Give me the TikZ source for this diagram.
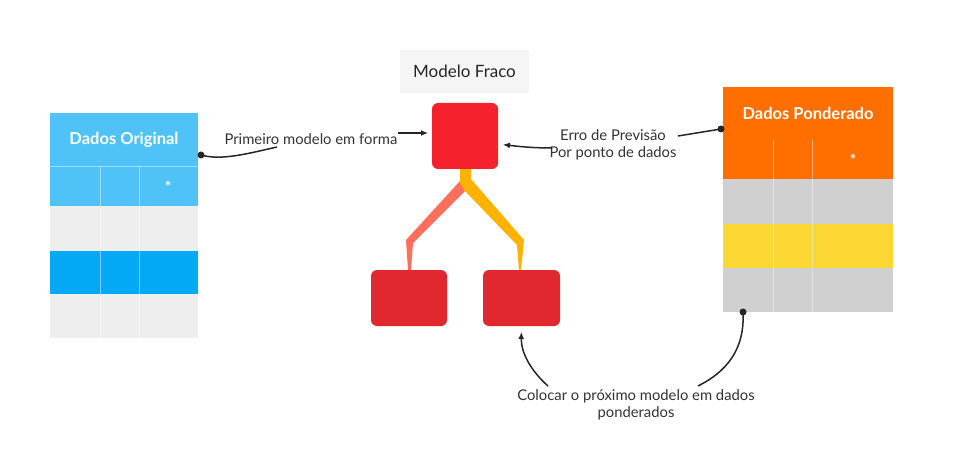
\documentclass[tikz,border=0pt]{standalone}
\usepackage{fontspec}
\setmainfont{Lato}
\usetikzlibrary{arrows.meta}
\definecolor{lblue}{HTML}{4FC3F7}
\definecolor{dblue}{HTML}{03A9F4}
\definecolor{lgray}{HTML}{EEEEEE}
\definecolor{orng}{HTML}{FF6F00}
\definecolor{mgray}{HTML}{D0D0D0}
\definecolor{yel}{HTML}{FDD835}
\definecolor{redtop}{HTML}{F5222D}
\definecolor{redbot}{HTML}{E0282E}
\definecolor{amber}{HTML}{FFB300}
\definecolor{salmon}{HTML}{FF6F5B}
\definecolor{txt}{HTML}{333333}
\definecolor{lblbg}{HTML}{F5F5F5}
\tikzset{
  band/.style={anchor=north west, inner sep=0pt, outer sep=0pt, draw=none},
  hdr/.style={text=white, font=\bfseries\fontsize{16.5}{20}\selectfont},
  lab/.style={text=txt, font=\fontsize{14.8}{17.5}\selectfont, align=center, inner sep=1pt},
  conn/.style={draw=black!85, line width=1.5pt},
  tip/.style={-{Latex[length=7pt,width=6pt]}},
  dot/.style={circle, fill=black!85, inner sep=0pt, minimum size=7pt},
  redbox/.style={rounded corners=6pt, inner sep=0pt, outer sep=0pt},
  divider/.style={draw=white, draw opacity=0.45, line width=0.8pt},
  ast/.style={text=white, font=\bfseries\fontsize{15}{18}\selectfont, inner sep=0pt}
}
\begin{document}
\begin{tikzpicture}[x=1pt, y=-1pt]
\useasboundingbox (0,0) rectangle (971,473);

% left table
\node[band, fill=lblue, minimum width=148pt, minimum height=53pt] (oh) at (50,113) {};
\node[hdr] (oht) at (124,140) {Dados Original};
\node[band, fill=lblue, minimum width=148pt, minimum height=40pt] (o1) at (50,166) {};
\node[band, fill=lgray, minimum width=148pt, minimum height=45pt] (o2) at (50,206) {};
\node[band, fill=dblue, minimum width=148pt, minimum height=43pt] (o3) at (50,251) {};
\node[band, fill=lgray, minimum width=148pt, minimum height=44pt] (o4) at (50,294) {};
\node[ast] (oast) at (168,187) {*};
\draw[divider] (o1.north west) -- (o1.north east);
\draw[divider] (100,166) -- (100,338);
\draw[divider] (139,166) -- (139,338);

% right table
\node[band, fill=orng, minimum width=170pt, minimum height=92pt] (ph) at (723,87) {};
\node[hdr] (pht) at (808,113) {Dados Ponderado};
\node[band, fill=mgray, minimum width=170pt, minimum height=45pt] (p2) at (723,179) {};
\node[band, fill=yel, minimum width=170pt, minimum height=44pt] (p3) at (723,224) {};
\node[band, fill=mgray, minimum width=170pt, minimum height=44pt] (p4) at (723,268) {};
\node[ast] (past) at (853,160) {*};
\draw[divider] (773,140) -- (773,312);
\draw[divider] (812,140) -- (812,312);

% label
\node[fill=lblbg, minimum width=129pt, minimum height=43pt, inner sep=0pt,
      font=\fontsize{17}{20}\selectfont, text=black!85] (mf) at (464.5,71.5) {Modelo Fraco};

% branches
\fill[salmon] (460,181) -- (466,190) -- (413,243) -- (411,270) -- (408,270) -- (406,240) -- cycle;
\fill[amber] (460,165) -- (471,165) -- (471,179) -- (524,240) -- (521,270) -- (519,270) -- (517,245) -- (464,190) -- (460,183) -- cycle;

% model boxes
\node[redbox, fill=redtop, minimum width=66pt, minimum height=66pt] (top) at (465,136) {};
\node[redbox, fill=redbot, minimum width=76pt, minimum height=56pt] (bl) at (409,298) {};
\node[redbox, fill=redbot, minimum width=77pt, minimum height=56pt] (br) at (521.5,298) {};

% connector: primeiro modelo
\node[lab] (t1) at (311,139) {Primeiro modelo em forma};
\node[dot] (d1) at (201,155) {};
\coordinate (c1) at (277,147);
\draw[conn] (d1.center) .. controls (222,161) and (250,153) .. (c1);
\coordinate (a1) at (398,133);
\draw[conn, tip, shorten >=4pt] (a1) -- (top.west |- a1);

% connector: erro de previsao
\node[lab] (t2) at (613,145) {Erro de Previsão\\Por ponto de dados};
\node[dot] (d2) at (721,129) {};
\coordinate (c2) at (678,136);
\draw[conn] (c2) -- (d2.center);
\coordinate (a2) at (552,148);
\draw[conn, tip, shorten >=5pt] (a2) .. controls (530,148) and (515,146) .. (top.east |- 0,144);

% connector: proximo modelo
\node[lab] (t3) at (636,405) {Colocar o próximo modelo em dados\\ponderados};
\node[dot] (d3) at (743,312) {};
\coordinate (c3) at (698,386);
\draw[conn] (d3.center) .. controls (745,350) and (726,372) .. (c3);
\coordinate (a3) at (548,386);
\draw[conn, tip, shorten >=6pt] (a3) .. controls (530,370) and (521,352) .. (br.south);
\end{tikzpicture}
\end{document}
